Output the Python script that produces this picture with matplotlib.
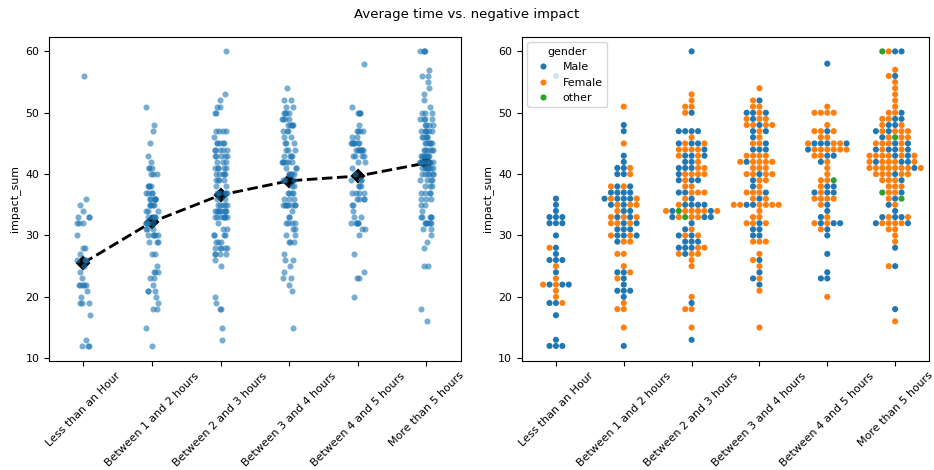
import numpy as np
import pandas as pd
import matplotlib
matplotlib.use("Agg")
import matplotlib.pyplot as plt
import seaborn as sns

plt.rcParams["font.size"] = 7.9

order = ["Less than an Hour", "Between 1 and 2 hours", "Between 2 and 3 hours",
         "Between 3 and 4 hours", "Between 4 and 5 hours", "More than 5 hours"]
gender_order = ["Male", "Female", "other"]
codes = {"M": "Male", "F": "Female", "O": "other"}

# impact_sum value -> genders of the respondents with that value
less_1h = {56: "M", 36: "M", 35: "M", 34: "M", 33: "MMM", 32: "MMM", 30: "M",
           28: "FM", 27: "M", 26: "MMM", 25: "F", 24: "M", 23: "F", 22: "MMFMF",
           21: "F", 20: "F", 19: "MMF", 17: "M", 13: "M", 12: "MMM"}
h1_2 = {51: "F", 48: "M", 47: "M", 45: "F", 43: "M", 42: "M", 41: "MMF", 40: "MMF",
        38: "FMMF", 37: "MMMM", 36: "MMMMFF", 35: "MMFFF", 34: "MMF", 33: "FFMFM",
        32: "MFFFM", 31: "MMM", 30: "MMFMF", 29: "FFM", 27: "FF", 25: "F", 24: "MFM",
        23: "FM", 22: "M", 21: "MMM", 20: "M", 19: "F", 18: "FF", 15: "F", 12: "M"}
h2_3 = {60: "M", 53: "F", 52: "F", 51: "FF", 50: "MF", 47: "MMMM", 46: "F", 45: "MMFFM",
        44: "FMFFF", 43: "FMFMM", 42: "MFM", 41: "MFMMF", 40: "FMFFF", 39: "MMFM",
        38: "FF", 37: "MFFFM", 36: "FM", 35: "MFMMM", 34: "FFFMOFFMF", 33: "FMOFMFM",
        32: "M", 31: "FM", 30: "MFMF", 29: "MMM", 28: "FMFMM", 27: "FFMF", 26: "F",
        25: "F", 20: "F", 19: "M", 18: "FF", 15: "F", 13: "M"}
h3_4 = {54: "F", 52: "MF", 51: "FF", 50: "MFMM", 49: "FMFF", 48: "MFFFF", 47: "MFM",
        46: "FM", 45: "FFM", 44: "MMM", 43: "FFFF", 42: "MFFFFF", 41: "FFF",
        40: "FFMFF", 39: "FFM", 38: "MF", 37: "FMFF", 36: "MFF", 35: "FMMFFFFF",
        34: "F", 33: "FF", 32: "FFMF", 31: "MM", 30: "MM", 29: "FFF", 27: "F", 26: "MF",
        25: "F", 24: "M", 23: "FM", 22: "M", 21: "F", 15: "F"}
h4_5 = {58: "M", 51: "F", 50: "FFFF", 48: "F", 47: "FFMF", 46: "FF", 45: "FMFMMMF",
        44: "FMFFFFF", 43: "FMFM", 42: "MF", 41: "F", 40: "F", 39: "OFF", 38: "FMM",
        37: "FMMM", 36: "FFFF", 35: "FM", 34: "M", 33: "MF", 32: "FMFMM", 31: "FM",
        30: "M", 27: "M", 24: "M", 23: "MM", 20: "F"}
more_5h = {60: "FMOM", 57: "F", 56: "MF", 55: "F", 54: "F", 53: "F", 52: "F", 51: "F",
           50: "MFF", 49: "MFFM", 48: "MFMF", 47: "FFMFFM", 46: "FOFMF", 45: "FMFFMF",
           44: "MMFFMM", 43: "MFFFFFFM", 42: "FFFMFFMM", 41: "FFFFFMFFF", 40: "MFFFFF",
           39: "FMFF", 38: "FFF", 37: "MOFF", 36: "MOF", 35: "FM", 34: "M", 33: "MMFFM",
           32: "MFMFFF", 31: "FF", 30: "F", 29: "F", 28: "M", 25: "FM", 18: "M", 16: "F"}

groups = [less_1h, h1_2, h2_3, h3_4, h4_5, more_5h]
rows = []
for cat, grp in zip(order, groups):
    for val, gs in grp.items():
        for g in gs:
            rows.append({"time": cat, "impact_sum": val, "gender": codes[g]})
df = pd.DataFrame(rows)

np.random.seed(3)
fig = plt.figure(figsize=(9.34, 4.70), dpi=100)
ax1 = fig.add_axes([0.0525, 0.2326, 0.4408, 0.6894])
ax2 = fig.add_axes([0.5589, 0.2326, 0.4358, 0.6894])

sns.stripplot(data=df, x="time", y="impact_sum", order=order, alpha=0.6, size=4.4,
              jitter=True, ax=ax1)
sns.pointplot(data=df, x="time", y="impact_sum", order=order, color="black",
              markers="D", linestyles="--", errorbar=None, markersize=6,
              linewidth=2.05, ax=ax1)

sns.swarmplot(data=df, x="time", y="impact_sum", hue="gender", hue_order=gender_order,
              order=order, size=4.4, ax=ax2)
sns.move_legend(ax2, "upper left", title="gender")

for ax in (ax1, ax2):
    ax.set_xlabel("")
    ax.set_ylabel("impact_sum")
    ax.tick_params(axis="x", rotation=45)

fig.suptitle("Average time vs. negative impact", y=0.983, fontsize=9.5)
fig.savefig("out.png", dpi=100)
